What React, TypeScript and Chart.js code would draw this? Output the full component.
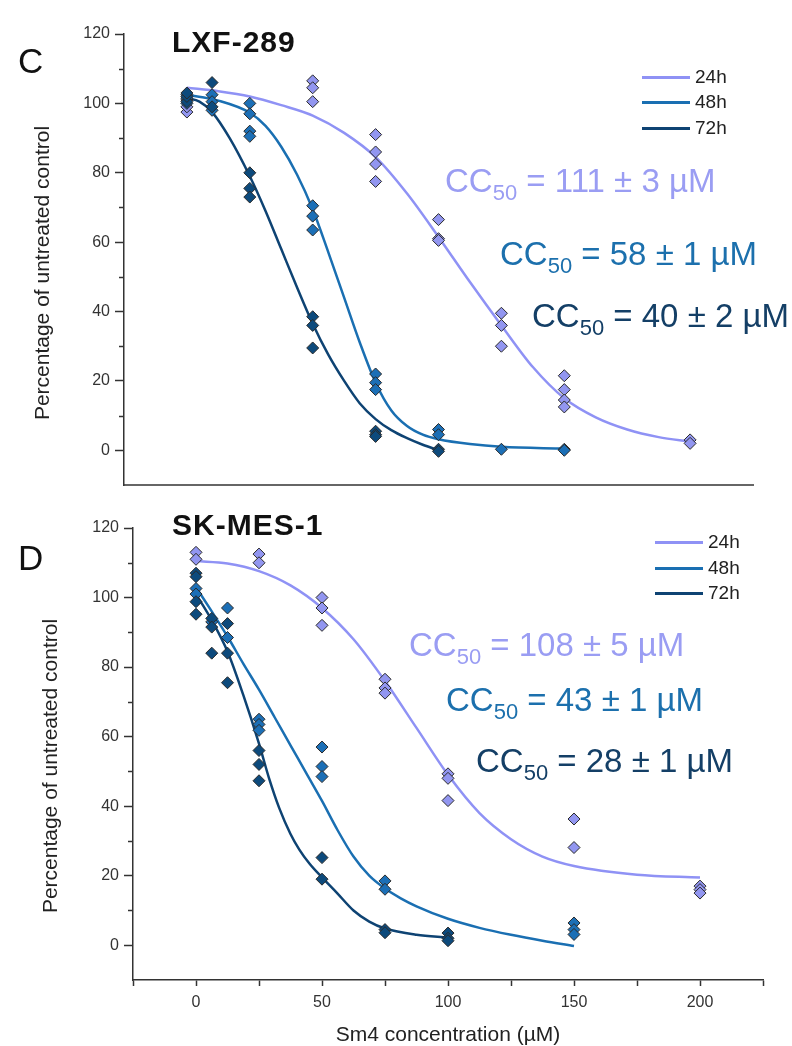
import React, { useEffect, useRef } from "react";
import { Chart, registerables } from "chart.js";

Chart.register(...registerables);

const FONT = '"Liberation Sans", Arial, Helvetica, sans-serif';

// ---------- series meta ----------
const SERIES_LABELS = ["24h", "48h", "72h"];
const SERIES_COLORS = ["#8f92f5", "#1a6fb2", "#0e4373"];
const POINT_COLORS = ["#9296f0", "#1c6fb6", "#0d4a7c"];
const TEXT_COLORS = ["#9a9df3", "#1c70ad", "#143f66"];

// ---------- axes ----------
const X_TICKS = [-25, 0, 25, 50, 75, 100, 125, 150, 175, 200, 225];
const X_LABELLED = [0, 50, 100, 150, 200];
const Y_TICKS = [0, 20, 40, 60, 80, 100, 120];
const Y_MINOR = [10, 30, 50, 70, 90, 110];
const X_MIN = -25;
const X_MAX = 225;
const Y_MIN = -10;
const Y_MAX = 120;

// ---------- panel C : LXF-289 (concentration µM, % of control) ----------
const lxf24Points: [number, number][] = [
  [0, 97.5], [0, 99], [0, 101],
  [50, 106.5], [50, 104.5], [50, 100.5],
  [75, 91], [75, 86], [75, 82.5], [75, 77.5],
  [100, 66.5], [100, 61], [100, 60.5],
  [125, 39.5], [125, 36], [125, 30],
  [150, 21.5], [150, 17.5], [150, 14.5], [150, 12.5],
  [200, 3], [200, 2],
];
const lxf48Points: [number, number][] = [
  [0, 100], [0, 101.5], [0, 102.5],
  [10, 102.5], [10, 100.5], [10, 98],
  [25, 100], [25, 97], [25, 92], [25, 90.5],
  [50, 70.5], [50, 67.5], [50, 63.5],
  [75, 22], [75, 19.5], [75, 17.5],
  [100, 6], [100, 4.5],
  [125, 0.3], [150, 0.3], [150, 0],
];
const lxf72Points: [number, number][] = [
  [0, 100.5], [0, 102], [0, 103],
  [10, 106], [10, 99],
  [25, 80], [25, 75.5], [25, 73],
  [50, 38.5], [50, 36], [50, 29.5],
  [75, 5.5], [75, 4.5], [75, 4],
  [100, 0.3], [100, -0.3],
];
const lxf24Fit: [number, number][] = [
  [0, 104.5], [12.5, 103.5], [25, 102], [37.5, 99.5], [50, 96.5], [62.5, 91.5],
  [75, 84.5], [87.5, 74], [100, 61.5], [112.5, 48.5], [125, 36], [137.5, 24],
  [150, 15], [162.5, 9.5], [175, 6], [187.5, 3.8], [200, 2.5],
];
const lxf48Fit: [number, number][] = [
  [0, 102.5], [12.5, 100.8], [25, 97.3], [31.25, 93.5], [37.5, 87.5], [43.75, 79.5],
  [50, 69.5], [56.25, 57], [62.5, 44], [68.75, 31], [75, 19.5], [81.25, 11.5],
  [87.5, 7], [93.75, 4.5], [100, 3.2], [112.5, 1.8], [125, 1], [150, 0.5],
];
const lxf72Fit: [number, number][] = [
  [0, 101.5], [5, 100.5], [10, 97.5], [17, 90], [25, 79], [31.25, 69], [37.5, 58],
  [43.75, 47], [50, 36.5], [56.25, 27.5], [62.5, 20], [68.75, 13.5], [75, 9],
  [81.25, 5.8], [87.5, 3.5], [93.75, 1.6], [100, 0],
];

// ---------- panel D : SK-MES-1 ----------
const skm24Points: [number, number][] = [
  [0, 113], [0, 111],
  [25, 112.5], [25, 110],
  [50, 100], [50, 97], [50, 92],
  [75, 76.5], [75, 74], [75, 72.5],
  [100, 49.3], [100, 48], [100, 41.6],
  [150, 36.3], [150, 28.1],
  [200, 17], [200, 16], [200, 15],
];
const skm48Points: [number, number][] = [
  [0, 102.6], [0, 101],
  [6.25, 93],
  [12.5, 97], [12.5, 88.5],
  [25, 65], [25, 63.5], [25, 61.8],
  [50, 57], [50, 51.4], [50, 48.5],
  [75, 18.5], [75, 16.1],
  [150, 6.4], [150, 4.5], [150, 3.1],
];
const skm72Points: [number, number][] = [
  [0, 107], [0, 106], [0, 98.8], [0, 95.2],
  [6.25, 94], [6.25, 91.5], [6.25, 84],
  [12.5, 92.5], [12.5, 84], [12.5, 75.5],
  [25, 56], [25, 52], [25, 47.3],
  [50, 25.2], [50, 19],
  [75, 4.5], [75, 3.6],
  [100, 3.5], [100, 2], [100, 1.3],
];
const skm24Fit: [number, number][] = [
  [0, 110.5], [12.5, 109.8], [25, 107.6], [37.5, 103.5], [50, 97], [62.5, 88],
  [75, 76], [87.5, 62.5], [100, 49], [112.5, 38], [125, 30.5], [137.5, 25.5],
  [150, 22.8], [175, 20.3], [200, 19.5],
];
const skm48Fit: [number, number][] = [
  [0, 103], [6.25, 96], [12.5, 88.8], [18.75, 81], [25, 73.5], [31.25, 65.5],
  [37.5, 57.5], [43.75, 49.5], [50, 41.5], [56.25, 33], [62.5, 25.5], [68.75, 20],
  [75, 16.3], [81.25, 13.5], [87.5, 11.2], [100, 7.6], [112.5, 5], [125, 3],
  [137.5, 1.3], [150, -0.2],
];
const skm72Fit: [number, number][] = [
  [0, 101], [6.25, 93.5], [12.5, 84.5], [18.75, 72], [25, 58], [29, 48], [33, 39.5],
  [37.5, 32], [41, 27.5], [45, 23.5], [50, 19.5], [56, 15], [62.5, 10], [68.75, 6.8],
  [75, 4.8], [87.5, 3], [100, 2.2],
];

// ---------- annotations ----------
const LXF_CC50 = ["= 111 ± 3 µM", "= 58 ± 1 µM", "= 40 ± 2 µM"];
const SKM_CC50 = ["= 108 ± 5 µM", "= 43 ± 1 µM", "= 28 ± 1 µM"];

type Panel = {
  top: number;
  height: number;
  areaLeft: number;
  areaRight: number;
  areaTop: number;
  areaBottom: number;
  showX: boolean;
  points: [number, number][][];
  fits: [number, number][][];
};

const minorTicks = {
  id: "minorTicks",
  afterDraw(chart: any) {
    const y = chart.scales.y;
    const ctx = chart.ctx;
    const left = chart.chartArea.left;
    ctx.save();
    ctx.strokeStyle = "#333";
    ctx.lineWidth = 1.5;
    Y_MINOR.forEach((v) => {
      const py = Math.round(y.getPixelForValue(v)) + 0.5;
      ctx.beginPath();
      ctx.moveTo(left - 5, py);
      ctx.lineTo(left, py);
      ctx.stroke();
    });
    ctx.restore();
  },
};

function toXY(arr: [number, number][]) {
  return arr.map(([x, y]) => ({ x, y }));
}

function PanelChart({ panel }: { panel: Panel }) {
  const ref = useRef<HTMLCanvasElement | null>(null);
  useEffect(() => {
    if (!ref.current) return;
    const p = panel;
    const fitSets = p.fits.map((f, i) => ({
      label: SERIES_LABELS[i] + " fit",
      data: toXY(f),
      showLine: true,
      borderColor: SERIES_COLORS[i],
      borderWidth: 2.5,
      pointRadius: 0,
      cubicInterpolationMode: "monotone",
      fill: false,
      order: 10,
    }));
    const ptSets = p.points.map((pts, i) => ({
      label: SERIES_LABELS[i],
      data: toXY(pts),
      showLine: false,
      pointStyle: "rectRot",
      pointRadius: 6,
      backgroundColor: POINT_COLORS[i],
      pointBackgroundColor: POINT_COLORS[i],
      pointBorderColor: "#2a2a2a",
      pointBorderWidth: 1,
      order: 3 - i,
    }));
    const chart = new Chart(ref.current, {
      type: "scatter",
      data: { datasets: [...fitSets, ...ptSets] as any },
      plugins: [minorTicks],
      options: {
        animation: false,
        responsive: false,
        events: [],
        layout: {
          padding: {
            left: 0,
            top: p.areaTop,
            right: 792 - p.areaRight,
            bottom: p.showX ? 0 : p.height - p.areaBottom,
          },
        },
        plugins: { legend: { display: false }, tooltip: { enabled: false } },
        scales: {
          x: {
            type: "linear",
            min: X_MIN,
            max: X_MAX,
            afterBuildTicks: (s: any) => {
              s.ticks = X_TICKS.map((v) => ({ value: v }));
            },
            afterFit: (s: any) => {
              s.height = p.showX ? p.height - p.areaBottom : 0;
              s.paddingLeft = 0;
              s.paddingRight = 0;
            },
            grid: {
              display: p.showX,
              drawOnChartArea: false,
              drawTicks: p.showX,
              tickLength: 6,
              tickColor: "#333",
              tickWidth: 1.5,
            },
            border: { display: true, color: p.showX ? "#333" : "#666", width: p.showX ? 1.5 : 2 },
            ticks: {
              display: p.showX,
              autoSkip: false,
              maxRotation: 0,
              padding: 7,
              color: "#333",
              font: { family: FONT, size: 16 },
              callback: (v: any) => (X_LABELLED.includes(Number(v)) ? String(v) : ""),
            },
          },
          y: {
            type: "linear",
            min: Y_MIN,
            max: Y_MAX,
            afterBuildTicks: (s: any) => {
              s.ticks = Y_TICKS.map((v) => ({ value: v }));
            },
            afterFit: (s: any) => {
              s.width = p.areaLeft;
              s.paddingTop = 0;
              s.paddingBottom = 0;
            },
            grid: {
              drawOnChartArea: false,
              tickLength: 9,
              tickColor: "#333",
              tickWidth: 1.5,
            },
            border: { display: true, color: "#333", width: 1.5 },
            ticks: {
              padding: 5,
              color: "#333",
              font: { family: FONT, size: 16 },
            },
          },
        },
      } as any,
    });
    return () => chart.destroy();
  }, [panel]);
  return (
    <canvas
      ref={ref}
      width={792}
      height={panel.height}
      style={{ position: "absolute", left: 0, top: panel.top, width: 792, height: panel.height }}
    />
  );
}

const PANEL_C: Panel = {
  top: 0,
  height: 500,
  areaLeft: 124,
  areaRight: 753,
  areaTop: 34,
  areaBottom: 485,
  showX: false,
  points: [lxf24Points, lxf48Points, lxf72Points],
  fits: [lxf24Fit, lxf48Fit, lxf72Fit],
};

const PANEL_D: Panel = {
  top: 500,
  height: 546,
  areaLeft: 133,
  areaRight: 763,
  areaTop: 28,
  areaBottom: 480,
  showX: true,
  points: [skm24Points, skm48Points, skm72Points],
  fits: [skm24Fit, skm48Fit, skm72Fit],
};

function Abs({ left, top, style, children }: any) {
  return (
    <div style={{ position: "absolute", left, top, whiteSpace: "nowrap", ...style }}>{children}</div>
  );
}

function CC50({ left, baseline, color, text }: any) {
  return (
    <Abs left={left} top={baseline - 28} style={{ fontSize: 33, lineHeight: "33px", color }}>
      CC<span style={{ fontSize: 22, position: "relative", top: 8 }}>50</span> {text}
    </Abs>
  );
}

function Legend({ left, tops }: { left: number; tops: number[] }) {
  return (
    <>
      {SERIES_LABELS.map((lab, i) => (
        <React.Fragment key={lab}>
          <div
            style={{
              position: "absolute",
              left,
              top: tops[i] - 1.5,
              width: 48,
              height: 3,
              background: SERIES_COLORS[i],
            }}
          />
          <Abs left={left + 53} top={tops[i] - 11} style={{ fontSize: 19, lineHeight: "22px", color: "#222" }}>
            {lab}
          </Abs>
        </React.Fragment>
      ))}
    </>
  );
}

function YTitle({ cx, cy }: { cx: number; cy: number }) {
  return (
    <div
      style={{
        position: "absolute",
        left: cx - 170,
        top: cy - 12,
        width: 340,
        height: 24,
        lineHeight: "24px",
        textAlign: "center",
        fontSize: 21,
        color: "#222",
        transform: "rotate(-90deg)",
        whiteSpace: "nowrap",
      }}
    >
      Percentage of untreated control
    </div>
  );
}

export default function App() {
  return (
    <div
      style={{
        position: "absolute",
        left: 0,
        top: 0,
        width: 792,
        height: 1046,
        background: "#fff",
        fontFamily: FONT,
        overflow: "hidden",
      }}
    >
      <PanelChart panel={PANEL_C} />
      <PanelChart panel={PANEL_D} />

      {/* panel letters and titles */}
      <Abs left={18} top={73 - 30} style={{ fontSize: 35, lineHeight: "35px", color: "#111" }}>C</Abs>
      <Abs left={18} top={570 - 30} style={{ fontSize: 35, lineHeight: "35px", color: "#111" }}>D</Abs>
      <Abs left={172} top={52 - 25.5} style={{ fontSize: 30, lineHeight: "30px", fontWeight: "bold", letterSpacing: 1, color: "#111" }}>
        LXF-289
      </Abs>
      <Abs left={172} top={535 - 25.5} style={{ fontSize: 30, lineHeight: "30px", fontWeight: "bold", letterSpacing: 1, color: "#111" }}>
        SK-MES-1
      </Abs>

      {/* axis titles */}
      <YTitle cx={42} cy={273} />
      <YTitle cx={50} cy={766} />
      <div
        style={{
          position: "absolute",
          left: 248,
          top: 1022,
          width: 400,
          height: 24,
          lineHeight: "24px",
          textAlign: "center",
          fontSize: 21,
          color: "#222",
          whiteSpace: "nowrap",
        }}
      >
        Sm4 concentration (µM)
      </div>

      {/* legends */}
      <Legend left={642} tops={[77, 102, 128]} />
      <Legend left={655} tops={[542, 568, 593]} />

      {/* CC50 annotations */}
      <CC50 left={445} baseline={192} color={TEXT_COLORS[0]} text={LXF_CC50[0]} />
      <CC50 left={500} baseline={265} color={TEXT_COLORS[1]} text={LXF_CC50[1]} />
      <CC50 left={532} baseline={327} color={TEXT_COLORS[2]} text={LXF_CC50[2]} />
      <CC50 left={409} baseline={656} color={TEXT_COLORS[0]} text={SKM_CC50[0]} />
      <CC50 left={446} baseline={711} color={TEXT_COLORS[1]} text={SKM_CC50[1]} />
      <CC50 left={476} baseline={772} color={TEXT_COLORS[2]} text={SKM_CC50[2]} />
    </div>
  );
}
